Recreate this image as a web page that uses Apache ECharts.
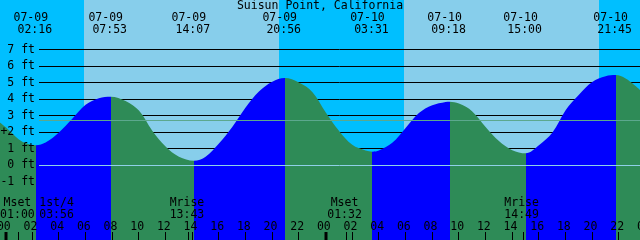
<!DOCTYPE html>
<html><head><meta charset="utf-8">
<script src="https://cdn.jsdelivr.net/npm/echarts@6/dist/echarts.min.js"></script>
<style>html,body{margin:0;padding:0;background:#fff}#c{width:640px;height:240px}</style>
</head><body><div id="c"></div>
<script>
// ---- data ----
const title = 'Suisun Point, California';
// hours counted from 07-09 00:00
const curveHours = [-0.42, 0, 1, 1.6, 2.267, 3, 4, 5, 6, 7, 7.883, 9, 10, 11, 12, 13, 14.117,
  15, 16, 17, 18, 19, 20, 20.933, 22, 23, 24, 25, 26, 27, 27.517, 28, 29, 30, 31, 32, 33, 33.3,
  34, 35, 36, 37, 38, 39, 40, 41, 42, 43, 44, 45, 45.75, 46.5, 47, 47.58];
const curveFeet = [2.58, 2.3, 1.55, 1.3, 1.2, 1.36, 1.97, 2.8, 3.65, 4.05, 4.14, 3.88, 3.3, 2.08, 1.12, 0.5, 0.26,
  0.5, 1.3, 2.3, 3.48, 4.45, 5.05, 5.27, 5.0, 4.43, 3.2, 2.08, 1.22, 0.88, 0.81, 0.88, 1.35, 2.25, 3.15, 3.62, 3.82, 3.84,
  3.72, 3.25, 2.3, 1.45, 0.9, 0.71, 1.2, 1.95, 3.32, 4.26, 5.03, 5.38, 5.45, 5.25, 4.95, 4.55];
const tideDays  = [0, 0, 0, 0, 1, 1, 1, 1];
const tideDates = ['07-09', '07-09', '07-09', '07-09', '07-10', '07-10', '07-10', '07-10'];
const tideTimes = ['02:16', '07:53', '14:07', '20:56', '03:31', '09:18', '15:00', '21:45'];
const tideKinds = ['low', 'high', 'low', 'high', 'low', 'high', 'low', 'high'];
const sunriseHours = [5.88, 29.88];
const sunsetHours  = [20.5, 44.5];
const depthValues = [7, 6, 5, 4, 3, 2, 1, 0, -1];
const depthLabels = ['7 ft', '6 ft', '5 ft', '4 ft', '3 ft', '+2 ft', '1 ft', '0 ft', '-1 ft'];
const meanSeaLevel = 2.7;
const datumLevel = 0;
const hourTicks  = [0, 2, 4, 6, 8, 10, 12, 14, 16, 18, 20, 22, 24, 26, 28, 30, 32, 34, 36, 38, 40, 42, 44, 46, 48];
const hourLabels = ['00','02','04','06','08','10','12','14','16','18','20','22','00','02','04','06','08','10','12','14','16','18','20','22','00'];
const moonDays  = [0, 0, 0, 1, 1];
const moonNames = ['Mset', '1st/4', 'Mrise', 'Mset', 'Mrise'];
const moonTimes = ['01:00', '03:56', '13:43', '01:32', '14:49'];

// ---- styling / layout ----
const FONT = '11.5px "DejaVu Sans Mono", monospace';
const NIGHT = '#00BFFF', DAY = '#87CEEB', FLOOD = '#0000FF', EBB = '#2E8B57';
const MSL_C = '#5CA88E', DATUM_C = '#8FD0E8';
const X_MIN = -0.42, X_MAX = 47.58, Y_MIN = -75 / 16.5, Y_MAX = 10;

const toHour = (d, t) => { const p = t.split(':'); return d * 24 + (+p[0]) + (+p[1]) / 60; };
const tideHours = tideTimes.map((t, i) => toHour(tideDays[i], t));
const moonHours = moonTimes.map((t, i) => toHour(moonDays[i], t));

// sky bands
const bands = [];
let cur = X_MIN - 1;
sunriseHours.forEach((r, i) => {
  bands.push([cur, r, 0]);
  bands.push([r, sunsetHours[i], 1]);
  cur = sunsetHours[i];
});
bands.push([cur, X_MAX + 1, 0]);

// flood/ebb pieces
const pieces = [];
let prev = -100;
tideHours.forEach((t, i) => { pieces.push({ gte: prev, lt: t, color: tideKinds[i] === 'low' ? EBB : FLOOD }); prev = t; });
pieces.push({ gte: prev, lt: 100, color: tideKinds[tideKinds.length - 1] === 'high' ? EBB : FLOOD });

const txt = (x, y, text, align) => ({ type: 'text', x, y, style: { text, font: FONT, fill: '#000', align: align || 'center', verticalAlign: 'middle' } });

const chart = echarts.init(document.getElementById('c'), null, { renderer: 'canvas' });
chart.setOption({
  animation: false,
  grid: { left: 0, right: 0, top: 0, bottom: 0 },
  xAxis: { type: 'value', min: X_MIN, max: X_MAX, show: false },
  yAxis: { type: 'value', min: Y_MIN, max: Y_MAX, show: false },
  visualMap: { type: 'piecewise', show: false, dimension: 0, seriesIndex: 2, pieces, outOfRange: { color: EBB } },
  graphic: [ { type: 'text', x: 320, y: 6.3, z: 100, style: { text: title, font: FONT, fill: '#000', align: 'center', verticalAlign: 'middle' } } ],
  series: [
    { type: 'custom', z: 1, silent: true, data: bands,
      renderItem: (p, api) => {
        const b = bands[p.dataIndex];
        const a = api.coord([b[0], Y_MAX]), c = api.coord([b[1], Y_MIN]);
        return { type: 'rect', shape: { x: a[0], y: a[1], width: c[0] - a[0], height: c[1] - a[1] }, style: { fill: b[2] ? DAY : NIGHT } };
      } },
    { type: 'custom', z: 2, silent: true, data: depthValues.map(v => [0, v]),
      renderItem: (p, api) => {
        const y = Math.floor(api.coord([0, depthValues[p.dataIndex]])[1]) + 0.5;
        return { type: 'line', shape: { x1: 39, y1: y, x2: api.getWidth(), y2: y }, style: { stroke: '#000', lineWidth: 1 } };
      } },
    { type: 'line', z: 3, silent: true, data: curveHours.map((h, i) => [h, curveFeet[i]]),
      smooth: 0.35, symbol: 'none', showSymbol: false,
      lineStyle: { width: 0, opacity: 0 }, areaStyle: { origin: 'start', opacity: 1 } },
    { type: 'custom', z: 4, silent: true, data: [[0, meanSeaLevel], [0, datumLevel]],
      renderItem: (p, api) => {
        const lv = p.dataIndex === 0 ? meanSeaLevel : datumLevel;
        const y = Math.floor(api.coord([0, lv])[1]) + 0.5;
        return { type: 'line', shape: { x1: 39, y1: y, x2: api.getWidth(), y2: y }, style: { stroke: p.dataIndex === 0 ? MSL_C : DATUM_C, lineWidth: 1 } };
      } },
    { type: 'custom', z: 5, silent: true, data: depthValues.map(v => [0, v]),
      renderItem: (p, api) => {
        const y = api.coord([0, depthValues[p.dataIndex]])[1];
        return txt(35, y + 0.3, depthLabels[p.dataIndex], 'right');
      } },
    { type: 'custom', z: 5, silent: true, data: tideHours.map(h => [h, 0]),
      renderItem: (p, api) => {
        const i = p.dataIndex, x = api.coord([tideHours[i], 0])[0];
        return { type: 'group', children: [ txt(x - 5, 17.8, tideDates[i]), txt(x - 1, 30, tideTimes[i]) ] };
      } },
    { type: 'custom', z: 5, silent: true, data: moonHours.map(h => [h, 0]),
      renderItem: (p, api) => {
        const i = p.dataIndex, x = api.coord([moonHours[i], 0])[0];
        const xr = Math.floor(x) + 0.5;
        return { type: 'group', children: [
          txt(x - 1.5, 202.8, moonNames[i]), txt(x - 1.5, 215.3, moonTimes[i]),
          { type: 'line', shape: { x1: xr, y1: 232, x2: xr, y2: 240 }, style: { stroke: '#000', lineWidth: 1 } } ] };
      } },
    { type: 'custom', z: 5, silent: true, data: hourTicks.map(h => [h, 0]),
      renderItem: (p, api) => {
        const h = hourTicks[p.dataIndex], x = api.coord([h, 0])[0];
        const mid = h % 24 === 0;
        const xr = mid ? Math.round(x) : Math.floor(x) + 0.5;
        return { type: 'group', children: [
          txt(x - 1.8, 226.8, hourLabels[p.dataIndex]),
          { type: 'line', shape: { x1: xr, y1: 232, x2: xr, y2: 240 }, style: { stroke: '#000', lineWidth: mid ? 3 : 1 } } ] };
      } }
  ]
});
</script></body></html>
